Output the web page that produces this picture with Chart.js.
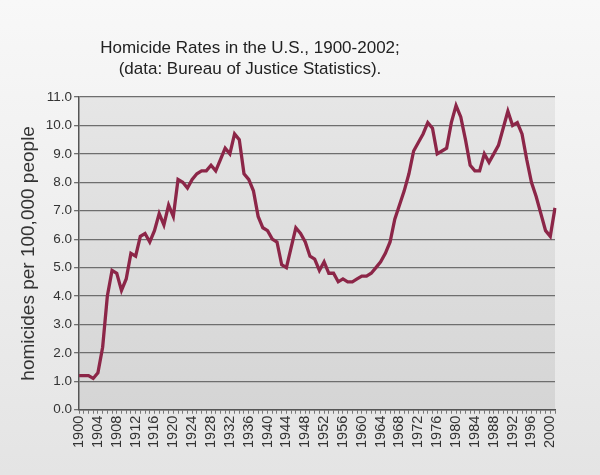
<!DOCTYPE html>
<html>
<head>
<meta charset="utf-8">
<script src="https://cdn.jsdelivr.net/npm/chart.js@4.4.1/dist/chart.umd.min.js"></script>
<style>
  body { margin: 0; background: linear-gradient(to bottom, #f8f8f8, #e4e4e4); }
  #wrap { position: relative; width: 600px; height: 475px; }
  .title { position: absolute; left: 0; width: 500px; text-align: center;
           font-family: "Liberation Sans", Arial, sans-serif; font-size: 17px; color: #222; }
</style>
</head>
<body>
<div id="wrap">
  <div class="title" style="top:38px">Homicide Rates in the U.S., 1900-2002;</div>
  <div class="title" style="top:59px">(data: Bureau of Justice Statistics).</div>
  <canvas id="HomicideOverTime" width="600" height="475"></canvas>
</div>
<script>
var years = []
for (var y = 1900; y <= 2001; y++) years.push(String(y))

var homicides = [
  1.2, 1.2, 1.2, 1.1, 1.3, 2.2, 4.0, 4.9, 4.8, 4.2,
  4.6, 5.5, 5.4, 6.1, 6.2, 5.9, 6.3, 6.9, 6.5, 7.2,
  6.8, 8.1, 8.0, 7.8, 8.1, 8.3, 8.4, 8.4, 8.6, 8.4,
  8.8, 9.2, 9.0, 9.7, 9.5, 8.3, 8.1, 7.7, 6.8, 6.4,
  6.3, 6.0, 5.9, 5.1, 5.0, 5.7, 6.4, 6.2, 5.9, 5.4,
  5.3, 4.9, 5.2, 4.8, 4.8, 4.5, 4.6, 4.5, 4.5, 4.6,
  4.7, 4.7, 4.8, 5.0, 5.2, 5.5, 5.9, 6.7, 7.2, 7.7,
  8.3, 9.1, 9.4, 9.7, 10.1, 9.9, 9.0, 9.1, 9.2, 10.1,
  10.7, 10.3, 9.5, 8.6, 8.4, 8.4, 9.0, 8.7, 9.0, 9.3,
  9.9, 10.5, 10.0, 10.1, 9.7, 8.8, 8.0, 7.5, 6.9, 6.3,
  6.1, 7.1
]

// gray plot area
var plotBg = {
    id: 'plotBg',
    beforeDraw: function (chart) {
        var ctx = chart.ctx, a = chart.chartArea
        var g = ctx.createLinearGradient(0, a.top, 0, a.bottom)
        g.addColorStop(0, '#e6e6e6')
        g.addColorStop(1, '#d5d5d5')
        ctx.save()
        ctx.fillStyle = g
        ctx.fillRect(a.left, a.top, a.right - a.left, a.bottom - a.top)
        ctx.restore()
    }
}

var font = "'Liberation Sans', Arial, sans-serif"

var hot = document.getElementById("HomicideOverTime");
var HomicideOverTime = new Chart(hot, {
    type: 'line',
    data: {
        labels: years,
        datasets: [
            {
                data: homicides,
                label: "Homicides per 100,000",
                borderColor: "#8c2648",
                borderWidth: 3.3,
                pointRadius: 0,
                tension: 0
            }
        ]
    },
    options: {
        responsive: false,
        animation: false,
        layout: { padding: { left: 17, right: 45, top: 97, bottom: 25 } },
        plugins: {
            legend: { display: false },
            tooltip: { enabled: false }
        },
        scales: {
            x: {
                offset: false,
                ticks: {
                    autoSkip: false,
                    minRotation: 90,
                    maxRotation: 90,
                    padding: 2,
                    color: '#333',
                    font: { family: font, size: 14.5 },
                    callback: function (val, i) { return i % 4 === 0 ? years[i] : '' }
                },
                grid: { drawOnChartArea: false, tickLength: 4, color: '#777' },
                border: { color: '#555', width: 1.5 }
            },
            y: {
                min: 0,
                max: 11,
                ticks: {
                    stepSize: 1,
                    padding: 2,
                    color: '#333',
                    font: { family: font, size: 13.5 },
                    callback: function (v) { return v.toFixed(1) }
                },
                grid: { color: '#6e6e6e', lineWidth: 1.3, tickLength: 5 },
                border: { color: '#555', width: 1.5 },
                title: {
                    display: true,
                    text: 'homicides per 100,000 people',
                    color: '#333',
                    font: { family: font, size: 19 },
                    padding: { top: 0, bottom: 4 }
                }
            }
        }
    },
    plugins: [plotBg]
});
</script>
</body>
</html>
